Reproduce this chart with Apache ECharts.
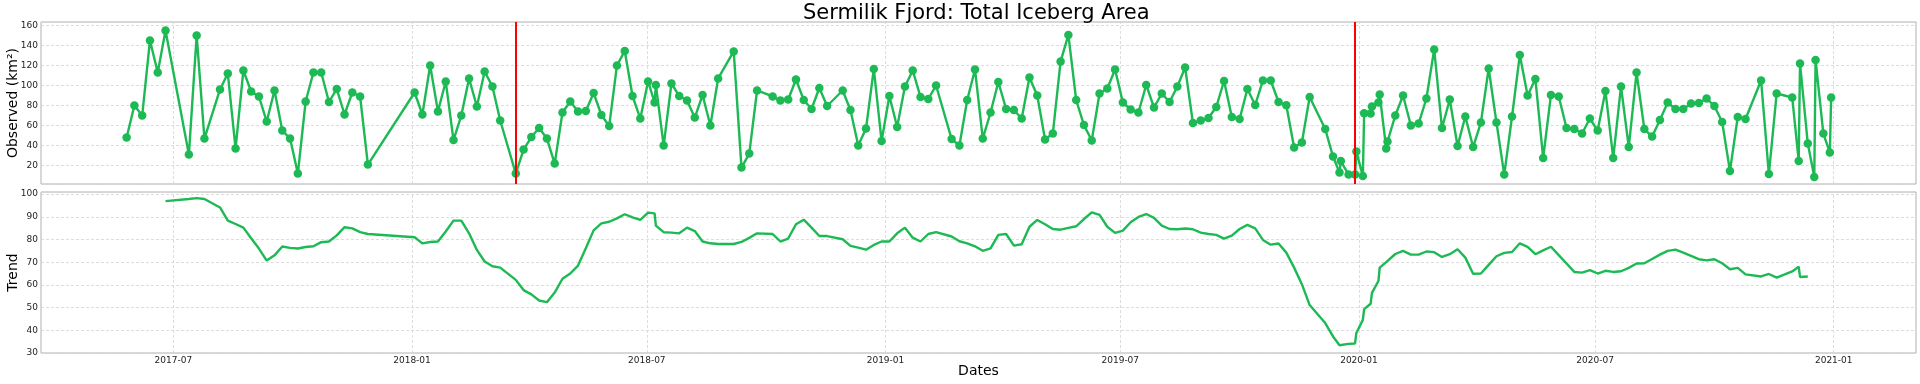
<!DOCTYPE html>
<html><head><meta charset="utf-8">
<script src="https://cdn.jsdelivr.net/npm/echarts@6/dist/echarts.min.js"></script>
<style>html,body{margin:0;padding:0;background:#fff}#c{width:1920px;height:384px}</style>
</head><body><div id="c"></div>
<script>
const dates = [
'2017-05-26','2017-06-01','2017-06-07','2017-06-13','2017-06-19','2017-06-25',
'2017-07-13','2017-07-19','2017-07-25','2017-08-06','2017-08-12','2017-08-18','2017-08-24','2017-08-30',
'2017-09-05','2017-09-11','2017-09-17','2017-09-23','2017-09-29',
'2017-10-05','2017-10-11','2017-10-17','2017-10-23','2017-10-29',
'2017-11-04','2017-11-10','2017-11-16','2017-11-22','2017-11-28',
'2018-01-03','2018-01-09','2018-01-15','2018-01-21','2018-01-27',
'2018-02-02','2018-02-08','2018-02-14','2018-02-20','2018-02-26',
'2018-03-04','2018-03-10','2018-03-22','2018-03-28',
'2018-04-03','2018-04-09','2018-04-15','2018-04-21','2018-04-27',
'2018-05-03','2018-05-09','2018-05-15','2018-05-21','2018-05-27',
'2018-06-02','2018-06-08','2018-06-14','2018-06-20','2018-06-26',
'2018-07-02','2018-07-07','2018-07-08','2018-07-14','2018-07-20','2018-07-26',
'2018-08-01','2018-08-07','2018-08-13','2018-08-19','2018-08-25',
'2018-09-06','2018-09-12','2018-09-18','2018-09-24',
'2018-10-06','2018-10-12','2018-10-18','2018-10-24','2018-10-30',
'2018-11-05','2018-11-11','2018-11-17','2018-11-29',
'2018-12-05','2018-12-11','2018-12-17','2018-12-23','2018-12-29',
'2019-01-04','2019-01-10','2019-01-16','2019-01-22','2019-01-28',
'2019-02-03','2019-02-09','2019-02-21','2019-02-27',
'2019-03-05','2019-03-11','2019-03-17','2019-03-23','2019-03-29',
'2019-04-04','2019-04-10','2019-04-16','2019-04-22','2019-04-28',
'2019-05-04','2019-05-10','2019-05-16','2019-05-22','2019-05-28',
'2019-06-03','2019-06-09','2019-06-15','2019-06-21','2019-06-27',
'2019-07-03','2019-07-09','2019-07-15','2019-07-21','2019-07-27',
'2019-08-02','2019-08-08','2019-08-14','2019-08-20','2019-08-26',
'2019-09-01','2019-09-07','2019-09-13','2019-09-19','2019-09-25',
'2019-10-01','2019-10-07','2019-10-13','2019-10-19','2019-10-25','2019-10-31',
'2019-11-06','2019-11-12','2019-11-18','2019-11-24',
'2019-12-06','2019-12-12','2019-12-17','2019-12-18','2019-12-24','2019-12-29','2019-12-30',
'2020-01-04','2020-01-05','2020-01-10','2020-01-11','2020-01-16','2020-01-17','2020-01-22','2020-01-23','2020-01-29',
'2020-02-04','2020-02-10','2020-02-16','2020-02-22','2020-02-28',
'2020-03-05','2020-03-11','2020-03-17','2020-03-23','2020-03-29',
'2020-04-04','2020-04-10','2020-04-16','2020-04-22','2020-04-28',
'2020-05-04','2020-05-10','2020-05-16','2020-05-22','2020-05-28',
'2020-06-03','2020-06-09','2020-06-15','2020-06-21','2020-06-27',
'2020-07-03','2020-07-09','2020-07-15','2020-07-21','2020-07-27',
'2020-08-02','2020-08-08','2020-08-14','2020-08-20','2020-08-26',
'2020-09-01','2020-09-07','2020-09-13','2020-09-19','2020-09-25',
'2020-10-01','2020-10-07','2020-10-13','2020-10-19','2020-10-25',
'2020-11-06','2020-11-12','2020-11-18','2020-11-30',
'2020-12-05','2020-12-06','2020-12-12','2020-12-17','2020-12-18','2020-12-24','2020-12-29','2020-12-30'
];
const observed = [
48,80,70,145,113,155,
31,150,47,96,112,37,115,94,
89,64,95,55,47,
12,84,113,113,83.5,
96.5,71,93,89,21,
93,71,120,74,104,
45.5,70,107,79,114,
99,65,12,36,
48.5,57.5,47,22,73,
84,74,74.5,92.5,70.5,
59.5,120,134.5,89.5,67,
104,83,100.5,40,102,89.5,
85,68,90.5,60,107,
134,18,32,95,
89,85,86,106,85.5,
76.5,97.5,79.5,95,
75.5,40,57,116.5,44.5,
89.5,58.5,99,115,88.5,
86.5,100,46.5,40,
85.5,116,47,73,103.5,
76.5,75.5,67,108,90,
46,52,124,150.5,85.5,
60.5,45,92,97,116,
83,76,73,100.5,78,
92,83.5,99,118,62.5,
65,67.5,78.5,104.5,68.5,
66.5,96.5,80.5,105,105,83.5,
80.3,38,43,88.5,
56.5,29,13,24.5,11,11,34,
9.5,72.3,72,79,83,91,37,44,70,
90,60,62,87,136,
57.5,86,39.5,69,38.5,
63,117,63,11,69,
130.5,90,106.5,27.5,90.5,
89,57.5,56.5,52,67,
55,94.5,27.5,99,38.5,
113,56.5,49,65.5,83,
76.5,76.5,82,82.5,87,
79.5,63.5,14.5,68.5,66.5,
105,11.5,92,88,
24.5,122,42,8.7,125.5,52,33,88
];
const trend = [
null,null,null,null,null,96.9,
97.8,98.2,97.8,94.1,88.3,86.8,85.2,80.5,
76,70.7,73,76.9,76.3,
76,76.7,77,78.8,79.1,
81.8,85.4,84.9,83.2,82.4,
81,78.3,78.9,79.1,83.5,
88.3,88.3,82.7,75.4,70.3,
68.2,67.6,62.2,57.7,
55.8,53.1,52.4,56.6,62.7,
65,68.5,76.1,84,87.1,
87.8,89.3,91.1,89.7,88.6,
91.8,91.5,86.1,83.2,83,82.7,
85.2,83.7,79.1,78.3,78,
78,78.9,80.7,82.7,
82.4,79.1,80.4,86.7,88.7,
85.2,81.5,81.5,80.1,
77.2,76.4,75.5,77.6,79.1,
79.1,82.7,85.2,80.8,79.1,
82.4,83.2,81.3,79.2,
78.3,77,75,76.1,82,
82.4,77.3,77.9,85.6,88.6,
86.7,84.6,84.3,85.1,85.8,
89,91.9,90.8,85.6,82.9,
83.9,87.6,89.9,91.2,89.5,
86.1,84.6,84.5,84.8,84.5,
83,82.4,82,80.4,81.7,
84.6,86.4,84.9,79.8,77.7,78.2,
74.2,67.6,60.3,51.1,
43.2,37.3,33.4,33.6,34,34.2,38.8,
44.6,49.3,51.7,56.5,61.7,67.6,70,70.6,73.6,
75,73.3,73.3,74.7,74.4,
72.3,73.5,75.7,72,64.9,
65,68.8,72.6,74.1,74.5,
78.3,76.7,73.5,75.2,76.8,
73.1,69.4,65.7,65.4,66.5,
65,66.2,65.7,66,67.5,
69.4,69.5,71.4,73.3,75,
75.5,74.2,72.8,71.3,70.8,
71.3,69.5,66.9,67.5,64.6,
63.7,64.8,63.2,65.9,
68,63.5,63.7,null,null,null,null,null
];
const xTicks = ['2017-07-01','2018-01-01','2018-07-01','2019-01-01','2019-07-01','2020-01-01','2020-07-01','2021-01-01'];
const eventDates = ['2018-03-22','2019-12-29'];

const ts = s => { const p = s.split('-').map(Number); return Date.UTC(p[0], p[1]-1, p[2]); };
const GREEN = '#1DB954';
const FONT = 'DejaVu Sans';
const GRIDC = '#d4d4d4';
const xMin = ts('2017-03-21');
const xMax = ts('2021-03-05') + 10*3600e3;
const gridMarks = xTicks.map(t => ({xAxis: ts(t)}));
const obsData = dates.map((d,i) => [ts(d), observed[i]]);
const trendData = dates.map((d,i) => [ts(d), trend[i]]).filter(p => p[1] != null);
const fmtX = v => { const d = new Date(v); return d.getUTCFullYear() + '-' + String(d.getUTCMonth()+1).padStart(2,'0'); };

const splitLine = {show:true, lineStyle:{color:GRIDC, type:[3,2], width:0.8}};
const gridMarkLine = {silent:true, z:1, symbol:['none','none'], label:{show:false}, emphasis:{disabled:true},
  lineStyle:{color:GRIDC, type:[3,2], width:0.8}, data: gridMarks};

const chart = echarts.init(document.getElementById('c'), null, {renderer:'canvas'});
chart.setOption({
  animation:false,
  backgroundColor:'#fff',
  textStyle:{fontFamily:FONT},
  title:{text:'Sermilik Fjord: Total Iceberg Area', left:803, top:3, padding:0,
    textStyle:{fontFamily:FONT, fontSize:21, fontWeight:'normal', color:'#000'}},
  grid:[
    {left:41, right:4, top:22, height:162, show:true, borderColor:'#b0b0b0', borderWidth:1, outerBoundsMode:'none'},
    {left:41, right:4, top:192, height:161, show:true, borderColor:'#b0b0b0', borderWidth:1, outerBoundsMode:'none'}
  ],
  xAxis:[
    {type:'value', gridIndex:0, min:xMin, max:xMax, axisLine:{show:false}, axisTick:{show:false},
      axisLabel:{show:false}, splitLine:{show:false}},
    {type:'value', gridIndex:1, min:xMin, max:xMax, axisLine:{show:false}, axisTick:{show:false},
      axisLabel:{customValues: xTicks.map(ts), formatter: fmtX, fontSize:9, color:'#222', margin:3, fontFamily:FONT},
      splitLine:{show:false},
      name:'Dates', nameLocation:'middle', nameGap:11, nameMoveOverlap:false,
      nameTextStyle:{fontSize:14, color:'#000', fontFamily:FONT}}
  ],
  yAxis:[
    {type:'value', gridIndex:0, min:1.6, max:163.4, splitNumber:8,
      axisLine:{show:false}, axisTick:{show:false},
      axisLabel:{showMinLabel:false, showMaxLabel:false, fontSize:9, color:'#222', margin:3, fontFamily:FONT},
      splitLine:splitLine,
      name:'Observed (km²)', nameLocation:'middle', nameGap:21, nameMoveOverlap:false,
      nameTextStyle:{fontSize:14, color:'#000', fontFamily:FONT}},
    {type:'value', gridIndex:1, min:30, max:100.9, splitNumber:7,
      axisLine:{show:false}, axisTick:{show:false},
      axisLabel:{showMaxLabel:false, fontSize:9, color:'#222', margin:3, fontFamily:FONT},
      splitLine:splitLine,
      name:'Trend', nameLocation:'middle', nameGap:21, nameMoveOverlap:false,
      nameTextStyle:{fontSize:14, color:'#000', fontFamily:FONT}}
  ],
  series:[
    {type:'line', xAxisIndex:0, yAxisIndex:0, data:[], silent:true, markLine:gridMarkLine},
    {type:'line', xAxisIndex:1, yAxisIndex:1, data:[], silent:true, markLine:gridMarkLine},
    {type:'line', name:'Observed', xAxisIndex:0, yAxisIndex:0, data:obsData,
      symbol:'circle', symbolSize:8.5, showAllSymbol:true,
      lineStyle:{color:GREEN, width:2.4}, itemStyle:{color:GREEN},
      markLine:{silent:true, symbol:['none','none'], label:{show:false},
        lineStyle:{color:'#ff0000', type:'solid', width:2},
        data: eventDates.map(d => ({xAxis: ts(d)}))}},
    {type:'line', name:'Trend', xAxisIndex:1, yAxisIndex:1, data:trendData,
      symbol:'none', lineStyle:{color:GREEN, width:2.4}}
  ]
});
</script></body></html>
